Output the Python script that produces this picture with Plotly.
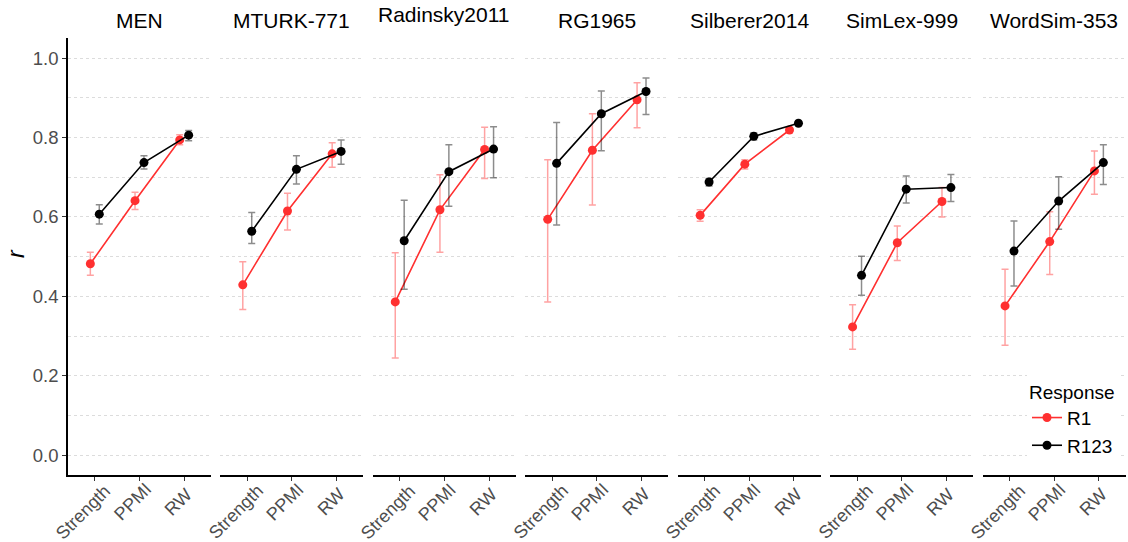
import plotly.graph_objects as go

datasets = ["MEN", "MTURK-771", "Radinsky2011", "RG1965", "Silberer2014", "SimLex-999", "WordSim-353"]
methods = ["Strength", "PPMI", "RW"]

r1_mean = [
    [0.482, 0.641, 0.794],
    [0.429, 0.615, 0.759],
    [0.386, 0.618, 0.770],
    [0.594, 0.768, 0.895],
    [0.604, 0.733, 0.819],
    [0.323, 0.535, 0.639],
    [0.376, 0.538, 0.716],
]
r1_lo = [
    [0.453, 0.619, 0.782],
    [0.367, 0.567, 0.725],
    [0.245, 0.511, 0.697],
    [0.386, 0.630, 0.825],
    [0.589, 0.721, 0.813],
    [0.267, 0.490, 0.600],
    [0.277, 0.455, 0.657],
]
r1_hi = [
    [0.511, 0.662, 0.807],
    [0.487, 0.660, 0.787],
    [0.510, 0.706, 0.826],
    [0.744, 0.860, 0.938],
    [0.618, 0.744, 0.825],
    [0.379, 0.577, 0.674],
    [0.468, 0.613, 0.766],
]
r123_mean = [
    [0.607, 0.737, 0.806],
    [0.564, 0.720, 0.765],
    [0.540, 0.714, 0.771],
    [0.735, 0.860, 0.916],
    [0.688, 0.803, 0.836],
    [0.453, 0.670, 0.674],
    [0.514, 0.640, 0.737],
]
r123_lo = [
    [0.582, 0.721, 0.792],
    [0.533, 0.683, 0.733],
    [0.418, 0.627, 0.699],
    [0.580, 0.767, 0.858],
    [0.678, 0.794, 0.831],
    [0.403, 0.635, 0.639],
    [0.426, 0.569, 0.682],
]
r123_hi = [
    [0.631, 0.754, 0.818],
    [0.611, 0.754, 0.794],
    [0.642, 0.782, 0.827],
    [0.838, 0.917, 0.950],
    [0.697, 0.812, 0.841],
    [0.501, 0.703, 0.707],
    [0.590, 0.701, 0.782],
]

series = [
    ("R1", r1_mean, r1_lo, r1_hi, "#FF3030", "rgba(255,48,48,0.45)", -0.1),
    ("R123", r123_mean, r123_lo, r123_hi, "#000000", "rgba(0,0,0,0.45)", 0.1),
]

# styling: rotated category label placement (pixel offsets of label centre from its tick)
label_dx = [-11.5, -7.0, -6.0]
label_cy = [512.0, 502.0, 501.5]

W, H = 1128, 542
left0, step, pw = 68.0, 152.45, 143.0
top_px, bot_px = 38.3, 475.0
ydom = [(H - bot_px) / H, (H - top_px) / H]

FONT = "Liberation Sans, Arial, sans-serif"
fig = go.Figure()
layout = dict(
    width=W, height=H, margin=dict(l=0, r=0, t=0, b=0, autoexpand=False),
    plot_bgcolor="white", paper_bgcolor="white",
    font=dict(family=FONT, color="#000000"),
    showlegend=True,
    legend=dict(
        title=dict(text="Response", font=dict(size=19, color="#000000")),
        font=dict(size=19, color="#000000"),
        x=1027 / W, xanchor="left", y=1 - 374 / H, yanchor="top",
        bgcolor="white", borderwidth=0, tracegroupgap=0, itemwidth=30,
    ),
)
annotations = []

for i, ds in enumerate(datasets):
    sfx = "" if i == 0 else str(i + 1)
    x0 = left0 + i * step
    xdom = [x0 / W, (x0 + pw) / W]
    for name, mean, lo, hi, col, ecol, off in series:
        xs = [k + 1 + off for k in range(len(methods))]
        ys = mean[i]
        fig.add_trace(go.Scatter(
            x=xs, y=ys, mode="lines+markers", name=name,
            legendgroup=name, showlegend=(i == 0),
            line=dict(color=col, width=1.6),
            marker=dict(color=col, size=9),
            error_y=dict(type="data", symmetric=False,
                         array=[h - m for h, m in zip(hi[i], ys)],
                         arrayminus=[m - l for m, l in zip(ys, lo[i])],
                         color=ecol, thickness=1.5, width=3.5),
            xaxis="x" + sfx, yaxis="y" + sfx,
        ))
    layout["xaxis" + sfx] = dict(
        domain=xdom, anchor="y" + sfx, range=[0.4, 3.6], automargin=False,
        tickvals=[1, 2, 3], showticklabels=False,
        showline=True, linecolor="#000000", linewidth=1.5,
        ticks="outside", ticklen=4, tickcolor="#333333", tickwidth=1.2,
        showgrid=False, zeroline=False, fixedrange=True,
    )
    for k, m in enumerate(methods):
        annotations.append(dict(
            text=m, x=k + 1, xref="x" + sfx, xshift=label_dx[k],
            y=1 - label_cy[k] / H, yref="paper",
            xanchor="center", yanchor="middle", showarrow=False, textangle=-45,
            font=dict(size=18, color="#4d4d4d", family=FONT),
        ))
    ycfg = dict(
        domain=ydom, anchor="x" + sfx, range=[-0.05, 1.05], automargin=False,
        dtick=0.2, tick0=0, tickformat=".1f",
        showgrid=True, gridcolor="#dcdcdc", griddash="dot", gridwidth=1,
        minor=dict(dtick=0.1, tick0=0, showgrid=True, gridcolor="#dcdcdc",
                   griddash="dot", gridwidth=1),
        zeroline=False, fixedrange=True,
    )
    if i == 0:
        ycfg.update(showline=True, linecolor="#000000", linewidth=1.5,
                    ticks="outside", ticklen=4, tickcolor="#333333", tickwidth=1.2,
                    tickfont=dict(size=18.5, color="#4d4d4d", family=FONT))
    else:
        ycfg.update(matches="y", showticklabels=False, showline=False, ticks="")
    layout["yaxis" + sfx] = ycfg
    ty = 20.3 if ds != "Radinsky2011" else 14.8
    annotations.append(dict(
        text=ds, x=(x0 + pw / 2) / W, y=1 - ty / H, xref="paper", yref="paper",
        xanchor="center", yanchor="middle", showarrow=False,
        font=dict(size=21, color="#000000", family=FONT),
    ))

annotations.append(dict(
    text="<i>r</i>", x=16 / W, y=1 - 254 / H, xref="paper", yref="paper",
    xanchor="center", yanchor="middle", showarrow=False, textangle=-90,
    font=dict(size=23, color="#000000", family=FONT),
))
layout["annotations"] = annotations
fig.update_layout(**layout)
fig.write_html("out.html")
